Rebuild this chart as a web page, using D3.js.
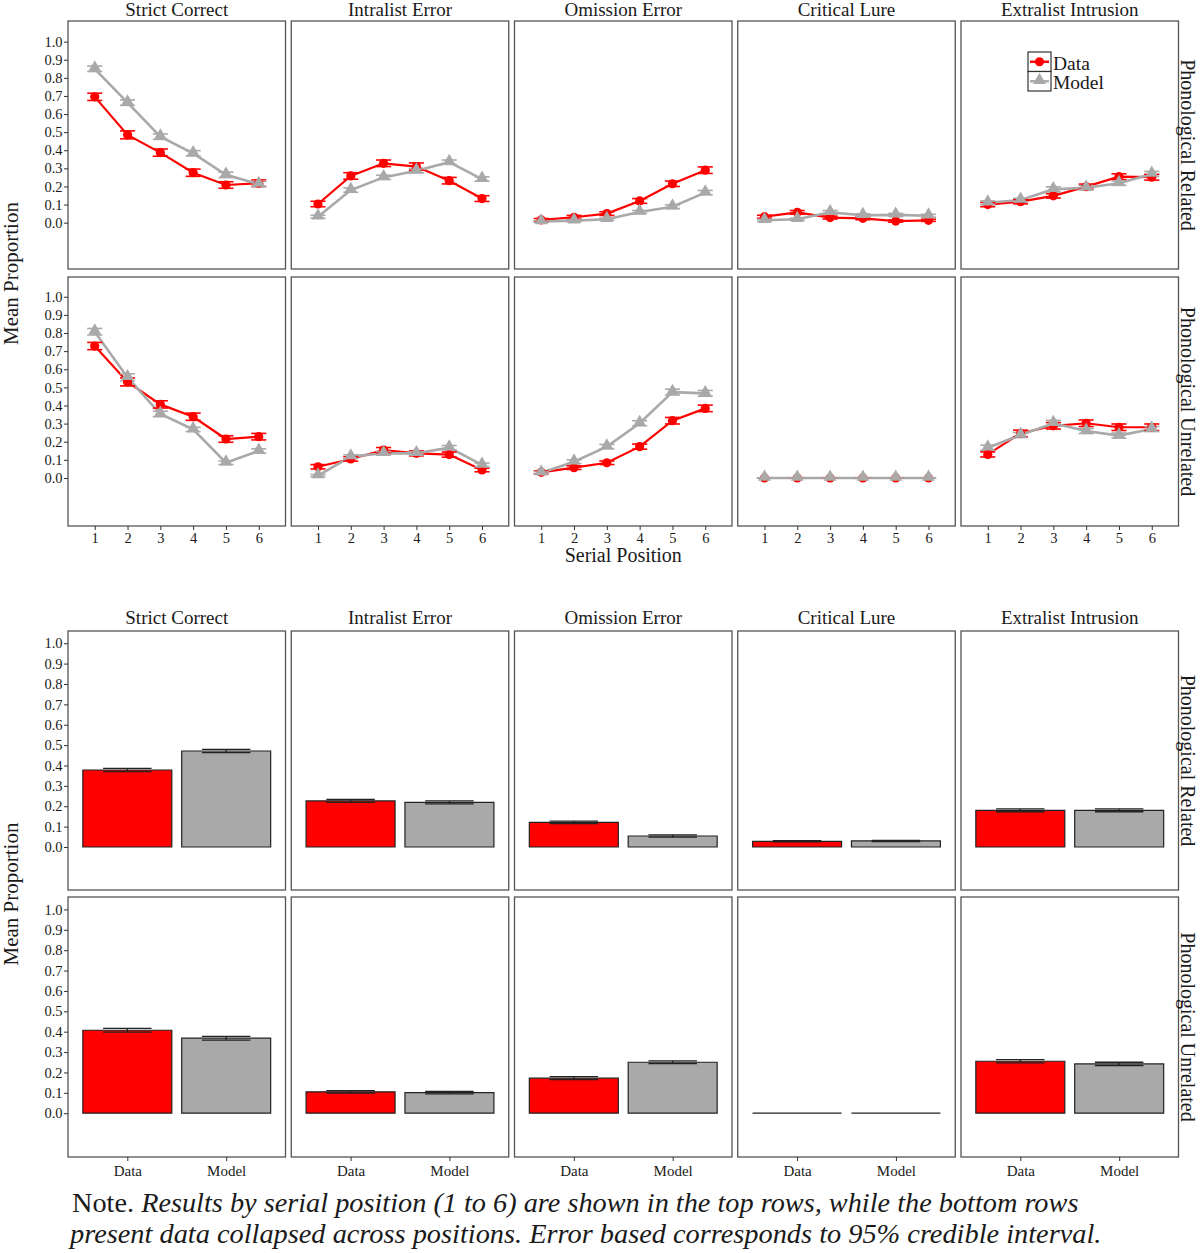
<!DOCTYPE html>
<html lang="en">
<head>
<meta charset="utf-8" />
<style>
body { margin: 0; background: white; }
svg text { font-family: "Liberation Serif", "Times New Roman", serif; fill: #1a1a1a; }
.tick line { stroke: #333; }
.tick text { font-size: 14.5px; font-family: "Liberation Serif", "Times New Roman", serif; }
.panel { fill: white; stroke: #555; stroke-width: 1.3px; }
.strip { font-size: 19px; text-anchor: middle; }
.axisTitle { font-size: 21px; text-anchor: middle; }
</style>
</head>
<body>
<script src="https://cdn.jsdelivr.net/npm/d3@7"></script>
<script>
// categories and conditions
var categories = ["Strict Correct", "Intralist Error", "Omission Error", "Critical Lure", "Extralist Intrusion"];
var conditions = ["Phonological Related", "Phonological Unrelated"];
var positions = [1, 2, 3, 4, 5, 6];
var groups = ["Data", "Model"];
var yTicks = [0, 0.1, 0.2, 0.3, 0.4, 0.5, 0.6, 0.7, 0.8, 0.9, 1.0];

// serial position curves, one array per category
var relatedData = [
  [0.695, 0.485, 0.387, 0.276, 0.208, 0.218],
  [0.103, 0.258, 0.328, 0.310, 0.232, 0.133],
  [0.015, 0.030, 0.050, 0.120, 0.215, 0.290],
  [0.033, 0.057, 0.028, 0.024, 0.009, 0.013],
  [0.100, 0.116, 0.148, 0.199, 0.254, 0.251]
];
var relatedModel = [
  [0.850, 0.663, 0.475, 0.383, 0.264, 0.213],
  [0.033, 0.180, 0.250, 0.287, 0.334, 0.241],
  [0.006, 0.011, 0.019, 0.059, 0.088, 0.166],
  [0.013, 0.019, 0.057, 0.041, 0.043, 0.038],
  [0.110, 0.125, 0.184, 0.193, 0.218, 0.269]
];
var unrelatedData = [
  [0.728, 0.530, 0.406, 0.338, 0.215, 0.228],
  [0.062, 0.105, 0.154, 0.136, 0.129, 0.044],
  [0.031, 0.057, 0.084, 0.173, 0.316, 0.384],
  [0, 0, 0, 0, 0, 0],
  [0.130, 0.246, 0.288, 0.302, 0.280, 0.280]
];
var unrelatedModel = [
  [0.807, 0.555, 0.353, 0.268, 0.084, 0.149],
  [0.013, 0.118, 0.136, 0.136, 0.167, 0.072],
  [0.029, 0.090, 0.173, 0.302, 0.474, 0.467],
  [0, 0, 0, 0, 0, 0],
  [0.167, 0.237, 0.302, 0.259, 0.234, 0.270]
];
// 95% interval half widths
var relatedDataErr = [
  [0.020, 0.022, 0.020, 0.020, 0.018, 0.018],
  [0.015, 0.018, 0.018, 0.020, 0.018, 0.016],
  [0.008, 0.010, 0.010, 0.013, 0.015, 0.018],
  [0.008, 0.010, 0.008, 0.008, 0.006, 0.006],
  [0.012, 0.012, 0.012, 0.014, 0.016, 0.016]
];
var relatedModelErr = [
  [0.015, 0.015, 0.015, 0.015, 0.015, 0.015],
  [0.008, 0.012, 0.012, 0.012, 0.012, 0.012],
  [0.005, 0.006, 0.006, 0.008, 0.010, 0.012],
  [0.006, 0.006, 0.010, 0.008, 0.008, 0.008],
  [0.010, 0.010, 0.014, 0.012, 0.012, 0.014]
];
var unrelatedDataErr = [
  [0.020, 0.022, 0.020, 0.020, 0.018, 0.018],
  [0.012, 0.012, 0.014, 0.014, 0.014, 0.010],
  [0.008, 0.010, 0.010, 0.014, 0.018, 0.018],
  [0, 0, 0, 0, 0, 0],
  [0.014, 0.018, 0.018, 0.018, 0.018, 0.018]
];
var unrelatedModelErr = [
  [0.018, 0.020, 0.015, 0.012, 0.010, 0.012],
  [0.006, 0.010, 0.010, 0.010, 0.012, 0.010],
  [0.006, 0.010, 0.012, 0.014, 0.016, 0.016],
  [0, 0, 0, 0, 0, 0],
  [0.014, 0.014, 0.016, 0.014, 0.014, 0.014]
];

// collapsed across positions, one value per category
var collapsedRelatedData = [0.378, 0.226, 0.121, 0.028, 0.180];
var collapsedRelatedModel = [0.471, 0.219, 0.054, 0.030, 0.180];
var collapsedUnrelatedData = [0.407, 0.105, 0.172, 0, 0.255];
var collapsedUnrelatedModel = [0.368, 0.101, 0.250, 0, 0.242];
var collapsedRelatedErr = [0.008, 0.007, 0.006, 0.003, 0.007];
var collapsedUnrelatedErr = [0.009, 0.006, 0.007, 0, 0.008];

var colors = { Data: "#FF0000", Model: "#A9A9A9" };

var svg = d3.select("body").append("svg")
    .attr("width", 1200)
    .attr("height", 1253);

var panelW = 217.5;
function colX(i) { return 68 + i * 223.25; }

var lineRows = [
  { y: 21, h: 248, dom: [-0.256, 1.114] },
  { y: 277, h: 249, dom: [-0.265, 1.109] }
];
var barRows = [
  { y: 631, h: 259, dom: [-0.211, 1.06] },
  { y: 897, h: 260, dom: [-0.215, 1.061] }
];

var lineSets = [
  { data: relatedData, model: relatedModel, dErr: relatedDataErr, mErr: relatedModelErr },
  { data: unrelatedData, model: unrelatedModel, dErr: unrelatedDataErr, mErr: unrelatedModelErr }
];
var barSets = [
  { data: collapsedRelatedData, model: collapsedRelatedModel, err: collapsedRelatedErr },
  { data: collapsedUnrelatedData, model: collapsedUnrelatedModel, err: collapsedUnrelatedErr }
];

var tri = d3.symbol().type(d3.symbolTriangle).size(72);

// ---- top section: serial position ----
lineRows.forEach(function (row, r) {
  var y = d3.scaleLinear().domain(row.dom).range([row.y + row.h, row.y]);
  categories.forEach(function (cat, c) {
    var x0 = colX(c);
    var x = d3.scaleLinear().domain([0.185, 6.815]).range([x0, x0 + panelW]);
    var g = svg.append("g");
    g.append("rect").attr("class", "panel")
        .attr("x", x0).attr("y", row.y).attr("width", panelW).attr("height", row.h);

    var series = [
      { name: "Data", vals: lineSets[r].data[c], err: lineSets[r].dErr[c] },
      { name: "Model", vals: lineSets[r].model[c], err: lineSets[r].mErr[c] }
    ];
    var line = d3.line()
        .x(function (d, i) { return x(positions[i]); })
        .y(function (d) { return y(d); });

    series.forEach(function (s) {
      g.append("path")
          .attr("d", line(s.vals))
          .attr("fill", "none")
          .attr("stroke", colors[s.name])
          .attr("stroke-width", s.name == "Data" ? 2.2 : 2.6);
    });
    series.forEach(function (s) {
      s.vals.forEach(function (v, i) {
        var p = positions[i], e = s.err[i];
        var eb = g.append("g").attr("stroke", colors[s.name]).attr("stroke-width", 1.6);
        eb.append("line").attr("x1", x(p)).attr("x2", x(p)).attr("y1", y(v - e)).attr("y2", y(v + e));
        eb.append("line").attr("x1", x(p - 0.23)).attr("x2", x(p + 0.23)).attr("y1", y(v - e)).attr("y2", y(v - e));
        eb.append("line").attr("x1", x(p - 0.23)).attr("x2", x(p + 0.23)).attr("y1", y(v + e)).attr("y2", y(v + e));
      });
    });
    series.forEach(function (s) {
      s.vals.forEach(function (v, i) {
        if (s.name == "Data") {
          g.append("circle").attr("cx", x(positions[i])).attr("cy", y(v)).attr("r", 4.6)
              .attr("fill", colors.Data);
        } else {
          g.append("path").attr("d", tri)
              .attr("transform", "translate(" + x(positions[i]) + "," + (y(v) - 1) + ")")
              .attr("fill", colors.Model);
        }
      });
    });

    if (c == 0) {
      var ya = g.append("g").attr("transform", "translate(" + x0 + ",0)")
          .call(d3.axisLeft(y).tickValues(yTicks).tickFormat(d3.format(".1f")).tickSize(4).tickPadding(1.5));
      ya.select(".domain").remove();
    }
    if (r == 1) {
      var xa = g.append("g").attr("transform", "translate(0," + (row.y + row.h) + ")")
          .call(d3.axisBottom(x).tickValues(positions).tickFormat(d3.format("d")).tickSize(4).tickPadding(3));
      xa.select(".domain").remove();
    }
    if (r == 0) {
      svg.append("text").attr("class", "strip")
          .attr("x", x0 + panelW / 2).attr("y", 16).text(cat);
    }
  });
  svg.append("text").attr("class", "strip")
      .attr("transform", "translate(1181," + (row.y + row.h / 2) + ") rotate(90)")
      .style("font-size", "20px")
      .text(conditions[r]);
});

svg.append("text").attr("class", "axisTitle")
    .attr("transform", "translate(18," + (21 + 526) / 2 + ") rotate(-90)")
    .text("Mean Proportion");
svg.append("text").attr("class", "axisTitle")
    .attr("x", colX(2) + panelW / 2).attr("y", 562)
    .style("font-size", "20px")
    .text("Serial Position");

// legend inside the top right panel
var legend = svg.append("g");
groups.forEach(function (name, i) {
  var ky = 52 + i * 19.5;
  legend.append("rect").attr("x", 1028).attr("y", ky).attr("width", 23).attr("height", 19.5)
      .attr("fill", "white").attr("stroke", "#333").attr("stroke-width", 1.2);
  legend.append("line").attr("x1", 1030).attr("x2", 1049).attr("y1", ky + 9.75).attr("y2", ky + 9.75)
      .attr("stroke", colors[name]).attr("stroke-width", 2.4);
  if (name == "Data") {
    legend.append("circle").attr("cx", 1039.5).attr("cy", ky + 9.75).attr("r", 4.6).attr("fill", colors.Data);
  } else {
    legend.append("path").attr("d", tri)
        .attr("transform", "translate(1039.5," + (ky + 8.75) + ")").attr("fill", colors.Model);
  }
  legend.append("text").attr("x", 1053).attr("y", ky + 17.5)
      .style("font-size", "19.5px").text(name);
});

// ---- bottom section: collapsed ----
barRows.forEach(function (row, r) {
  var y = d3.scaleLinear().domain(row.dom).range([row.y + row.h, row.y]);
  categories.forEach(function (cat, c) {
    var x0 = colX(c);
    var x = d3.scalePoint().domain(groups).range([x0, x0 + panelW]).padding(0.6);
    var step = x.step();
    var g = svg.append("g");
    g.append("rect").attr("class", "panel")
        .attr("x", x0).attr("y", row.y).attr("width", panelW).attr("height", row.h);

    var vals = [barSets[r].data[c], barSets[r].model[c]];
    var e = barSets[r].err[c];
    groups.forEach(function (name, i) {
      var v = vals[i];
      var bx0 = x(name) - step * 0.45, bx1 = x(name) + step * 0.45;
      // path so that a zero-height bar still shows its outline
      g.append("path")
          .attr("d", "M" + bx0 + "," + y(0) + "V" + y(v) + "H" + bx1 + "V" + y(0) + "Z")
          .attr("fill", colors[name])
          .attr("stroke", "#222")
          .attr("stroke-width", 1.2);
      if (e > 0) {
        var eb = g.append("g").attr("stroke", "#222").attr("stroke-width", 1.3);
        eb.append("line").attr("x1", x(name)).attr("x2", x(name)).attr("y1", y(v - e)).attr("y2", y(v + e));
        eb.append("line").attr("x1", x(name) - step * 0.245).attr("x2", x(name) + step * 0.245)
            .attr("y1", y(v - e)).attr("y2", y(v - e));
        eb.append("line").attr("x1", x(name) - step * 0.245).attr("x2", x(name) + step * 0.245)
            .attr("y1", y(v + e)).attr("y2", y(v + e));
      }
    });

    if (c == 0) {
      var ya = g.append("g").attr("transform", "translate(" + x0 + ",0)")
          .call(d3.axisLeft(y).tickValues(yTicks).tickFormat(d3.format(".1f")).tickSize(4).tickPadding(1.5));
      ya.select(".domain").remove();
    }
    if (r == 1) {
      var xa = g.append("g").attr("transform", "translate(0," + (row.y + row.h) + ")")
          .call(d3.axisBottom(x).tickSize(4).tickPadding(4));
      xa.select(".domain").remove();
      xa.selectAll("text").style("font-size", "15px");
    }
    if (r == 0) {
      svg.append("text").attr("class", "strip")
          .attr("x", x0 + panelW / 2).attr("y", 624).text(cat);
    }
  });
  svg.append("text").attr("class", "strip")
      .attr("transform", "translate(1181," + (row.y + row.h / 2) + ") rotate(90)")
      .style("font-size", "20px")
      .text(conditions[r]);
});

svg.append("text").attr("class", "axisTitle")
    .attr("transform", "translate(18," + (631 + 1157) / 2 + ") rotate(-90)")
    .text("Mean Proportion");

// note under the figure
var noteLines = [
  { x: 72, y: 1212, w: 1007, plain: "Note. ", italic: "Results by serial position (1 to 6) are shown in the top rows, while the bottom rows" },
  { x: 70, y: 1243, w: 1034, plain: "", italic: "present data collapsed across positions. Error based corresponds to 95% credible interval." }
];
noteLines.forEach(function (n) {
  var t = svg.append("text").style("font-size", "27px").attr("fill", "#111");
  if (n.plain) t.append("tspan").text(n.plain);
  t.append("tspan").style("font-style", "italic").text(n.italic);
  var w = t.node().getBBox().width;
  t.attr("transform", "translate(" + n.x + "," + n.y + ") scale(" + (n.w / w) + ",1)");
});
</script>
</body>
</html>
